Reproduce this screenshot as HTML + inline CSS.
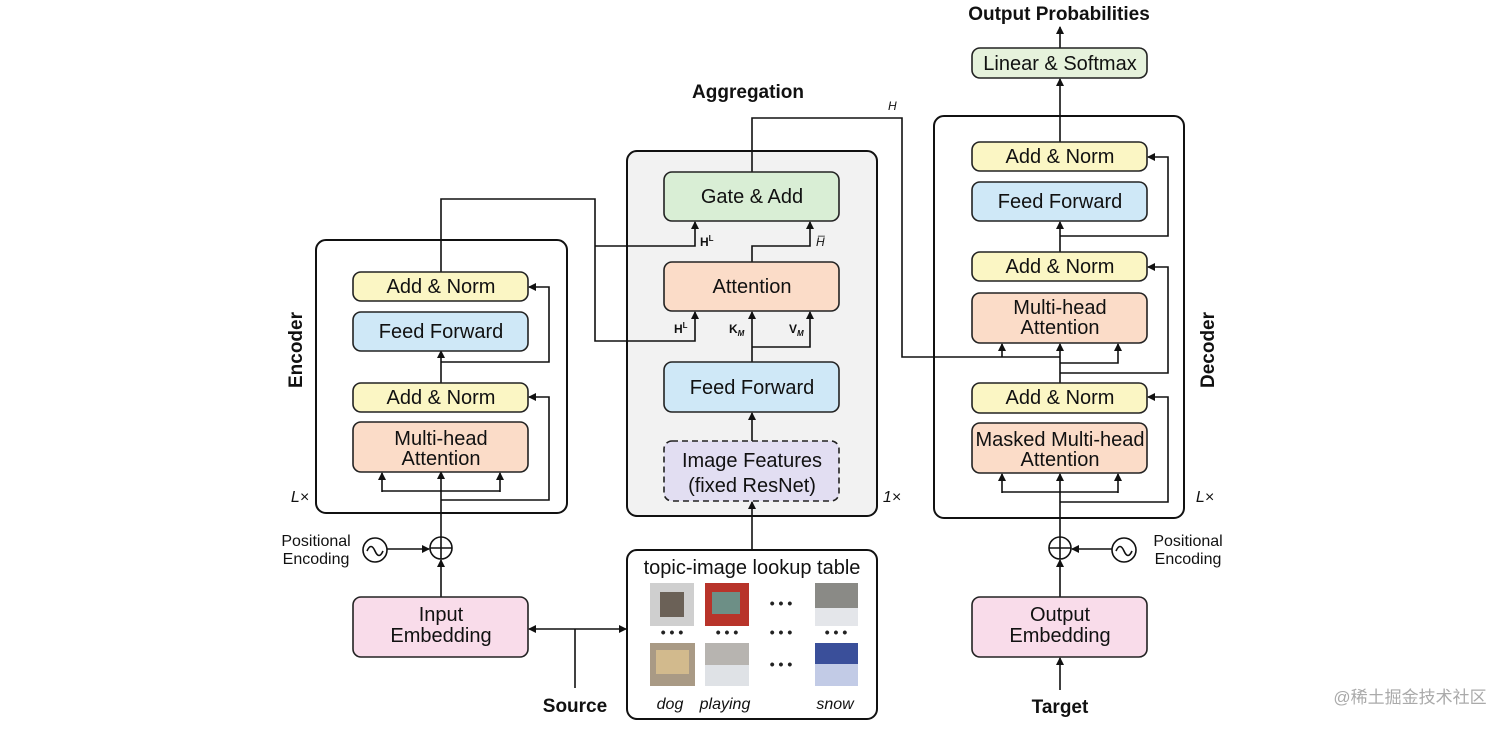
<!DOCTYPE html>
<html><head><meta charset="utf-8"><style>
body{margin:0;background:#fff}
svg{display:block;font-family:"Liberation Sans",sans-serif}
</style></head><body>
<svg width="1512" height="730" viewBox="0 0 1512 730" xmlns="http://www.w3.org/2000/svg">
<defs><marker id="a" markerWidth="8" markerHeight="8" refX="7" refY="4" orient="auto" markerUnits="userSpaceOnUse"><path d="M0,0L8,4L0,8z" fill="#111"/></marker></defs>
<g stroke="#111" stroke-width="2" fill="none">
<rect x="316" y="240" width="251" height="273" rx="10"/>
<rect x="627" y="151" width="250" height="365" rx="10" fill="#f2f2f2"/>
<rect x="934" y="116" width="250" height="402" rx="10"/>
<rect x="627" y="550" width="250" height="169" rx="10"/>
</g>
<g stroke="#111" stroke-width="1.6" fill="none">
<path d="M441 597V560" marker-end="url(#a)"/>
<path d="M441 538V472" marker-end="url(#a)" />
<path d="M382 491H500"/>
<path d="M382 492V473" marker-end="url(#a)"/><path d="M500 492V473" marker-end="url(#a)"/>
<path d="M441 500H549V397H529" marker-end="url(#a)"/>
<path d="M441 383V351" marker-end="url(#a)"/>
<path d="M441 362H549V287H529" marker-end="url(#a)"/>
<path d="M441 272V199H595V341H695V312" marker-end="url(#a)"/>
<path d="M595 246H695V222" marker-end="url(#a)"/>
<path d="M752 362V312" marker-end="url(#a)"/>
<path d="M752 347H810V312" marker-end="url(#a)"/>
<path d="M752 262V246H810V222" marker-end="url(#a)"/>
<path d="M752 441V413" marker-end="url(#a)"/>
<path d="M752 550V502" marker-end="url(#a)"/>
<path d="M752 172V118H902V357H1060"/>
<path d="M1002 357V344" marker-end="url(#a)"/>
<path d="M1060 357V344" marker-end="url(#a)"/>
<path d="M1060 597V560" marker-end="url(#a)"/>
<path d="M1060 538V474" marker-end="url(#a)"/>
<path d="M1002 492H1118"/>
<path d="M1002 493V474" marker-end="url(#a)"/><path d="M1118 493V474" marker-end="url(#a)"/>
<path d="M1060 502H1168V397H1148" marker-end="url(#a)"/>
<path d="M1060 413V357"/>
<path d="M1060 363H1118V344" marker-end="url(#a)"/>
<path d="M1060 373H1168V267H1148" marker-end="url(#a)"/>
<path d="M1060 252V222" marker-end="url(#a)"/>
<path d="M1060 236H1168V157H1148" marker-end="url(#a)"/>
<path d="M1060 142V79" marker-end="url(#a)"/>
<path d="M1060 48V27" marker-end="url(#a)"/>
<circle cx="441" cy="548" r="11" fill="#fff"/><path d="M430 548H452M441 537V559"/>
<circle cx="375" cy="550" r="12"/><path d="M367 551q4 -9 8 0t8 0"/>
<path d="M387 549H429" marker-end="url(#a)"/>
<circle cx="1060" cy="548" r="11" fill="#fff"/><path d="M1049 548H1071M1060 537V559"/>
<circle cx="1124" cy="550" r="12"/><path d="M1116 551q4 -9 8 0t8 0"/>
<path d="M1112 549H1072" marker-end="url(#a)"/>
<path d="M560 629H626" marker-end="url(#a)"/>
<path d="M560 629H529" marker-end="url(#a)"/>
<path d="M575 629V688"/>
<path d="M1060 690V658" marker-end="url(#a)"/>
</g>
<g stroke="#222" stroke-width="1.6">
<rect x="353" y="272" width="175" height="29" rx="8" fill="#fbf6c4"/>
<rect x="353" y="312" width="175" height="39" rx="8" fill="#cfe8f7"/>
<rect x="353" y="383" width="175" height="29" rx="8" fill="#fbf6c4"/>
<rect x="353" y="422" width="175" height="50" rx="8" fill="#fbdcc8"/>
<rect x="664" y="172" width="175" height="49" rx="8" fill="#d9eed5"/>
<rect x="664" y="262" width="175" height="49" rx="8" fill="#fbdcc8"/>
<rect x="664" y="362" width="175" height="50" rx="8" fill="#cfe8f7"/>
<rect x="664" y="441" width="175" height="60" rx="8" fill="#e2def2" stroke-dasharray="6,4"/>
<rect x="972" y="48" width="175" height="30" rx="8" fill="#e6f2dc"/>
<rect x="972" y="142" width="175" height="29" rx="8" fill="#fbf6c4"/>
<rect x="972" y="182" width="175" height="39" rx="8" fill="#cfe8f7"/>
<rect x="972" y="252" width="175" height="29" rx="8" fill="#fbf6c4"/>
<rect x="972" y="293" width="175" height="50" rx="8" fill="#fbdcc8"/>
<rect x="972" y="383" width="175" height="30" rx="8" fill="#fbf6c4"/>
<rect x="972" y="423" width="175" height="50" rx="8" fill="#fbdcc8"/>
<rect x="353" y="597" width="175" height="60" rx="8" fill="#f9dcea"/>
<rect x="972" y="597" width="175" height="60" rx="8" fill="#f9dcea"/>
</g>
<g>
<rect x="650" y="583" width="44" height="43" fill="#cfcfcf"/><rect x="660" y="592" width="24" height="25" fill="#6b6157"/>
<rect x="705" y="583" width="44" height="43" fill="#b8342a"/><rect x="712" y="592" width="28" height="22" fill="#6d8f86"/>
<rect x="815" y="583" width="43" height="43" fill="#8a8a86"/><rect x="815" y="608" width="43" height="18" fill="#e4e6ea"/>
<rect x="650" y="643" width="45" height="43" fill="#a99a85"/><rect x="656" y="650" width="33" height="24" fill="#d2ba8d"/>
<rect x="705" y="643" width="44" height="43" fill="#b7b4b0"/><rect x="705" y="665" width="44" height="21" fill="#dfe2e6"/>
<rect x="815" y="643" width="43" height="43" fill="#3a4f9a"/><rect x="815" y="664" width="43" height="22" fill="#c2cbe6"/>
</g>
<g font-size="14" text-anchor="middle" fill="#222" font-weight="bold">
<text x="672" y="637">• • •</text><text x="727" y="637">• • •</text><text x="781" y="637">• • •</text><text x="836" y="637">• • •</text>
<text x="781" y="608">• • •</text><text x="781" y="669">• • •</text>
</g>
<g font-size="20" text-anchor="middle" fill="#111">
<text x="441" y="293">Add &amp; Norm</text>
<text x="441" y="338">Feed Forward</text>
<text x="441" y="404">Add &amp; Norm</text>
<text x="441" y="445">Multi-head</text><text x="441" y="465">Attention</text>
<text x="752" y="203">Gate &amp; Add</text>
<text x="752" y="293">Attention</text>
<text x="752" y="394">Feed Forward</text>
<text x="752" y="467">Image Features</text><text x="752" y="492">(fixed ResNet)</text>
<text x="1060" y="70">Linear &amp; Softmax</text>
<text x="1060" y="163">Add &amp; Norm</text>
<text x="1060" y="208">Feed Forward</text>
<text x="1060" y="273">Add &amp; Norm</text>
<text x="1060" y="314">Multi-head</text><text x="1060" y="334">Attention</text>
<text x="1060" y="404">Add &amp; Norm</text>
<text x="1060" y="446">Masked Multi-head</text><text x="1060" y="466">Attention</text>
<text x="441" y="621">Input</text><text x="441" y="642">Embedding</text>
<text x="1060" y="621">Output</text><text x="1060" y="642">Embedding</text>
<text x="752" y="574">topic-image lookup table</text>
</g>
<g font-size="16" fill="#111" text-anchor="middle" font-style="italic">
<text x="670" y="709">dog</text><text x="725" y="709">playing</text><text x="835" y="709">snow</text>
</g>
<g font-size="16" fill="#111" text-anchor="middle">
<text x="316" y="546">Positional</text><text x="316" y="564">Encoding</text>
<text x="1188" y="546">Positional</text><text x="1188" y="564">Encoding</text>
<text x="300" y="502" font-style="italic">L×</text>
<text x="1205" y="502" font-style="italic">L×</text>
<text x="892" y="502" font-style="italic">1×</text>
</g>
<g font-size="19" font-weight="bold" fill="#111" text-anchor="middle">
<text x="1059" y="20">Output Probabilities</text>
<text x="748" y="98">Aggregation</text>
<text x="575" y="712">Source</text>
<text x="1060" y="713">Target</text>
<text transform="translate(302,350) rotate(-90)">Encoder</text>
<text transform="translate(1214,350) rotate(-90)">Decoder</text>
</g>
<g font-size="12" fill="#111" font-weight="bold">
<text x="700" y="246">H<tspan font-size="8" dy="-5">L</tspan></text>
<text x="816" y="246" font-style="italic" font-weight="normal">H̅</text>
<text x="674" y="333">H<tspan font-size="8" dy="-5">L</tspan></text>
<text x="729" y="333">K<tspan font-size="8" dy="3" font-style="italic">M</tspan></text>
<text x="789" y="333">V<tspan font-size="8" dy="3" font-style="italic">M</tspan></text>
<text x="888" y="110" font-style="italic" font-weight="normal">H</text>
</g>
<text x="1410" y="703" font-size="17" fill="#aaa" text-anchor="middle" font-family="'Liberation Sans','Noto Sans CJK SC',sans-serif">@稀土掘金技术社区</text>
</svg>
</body></html>
